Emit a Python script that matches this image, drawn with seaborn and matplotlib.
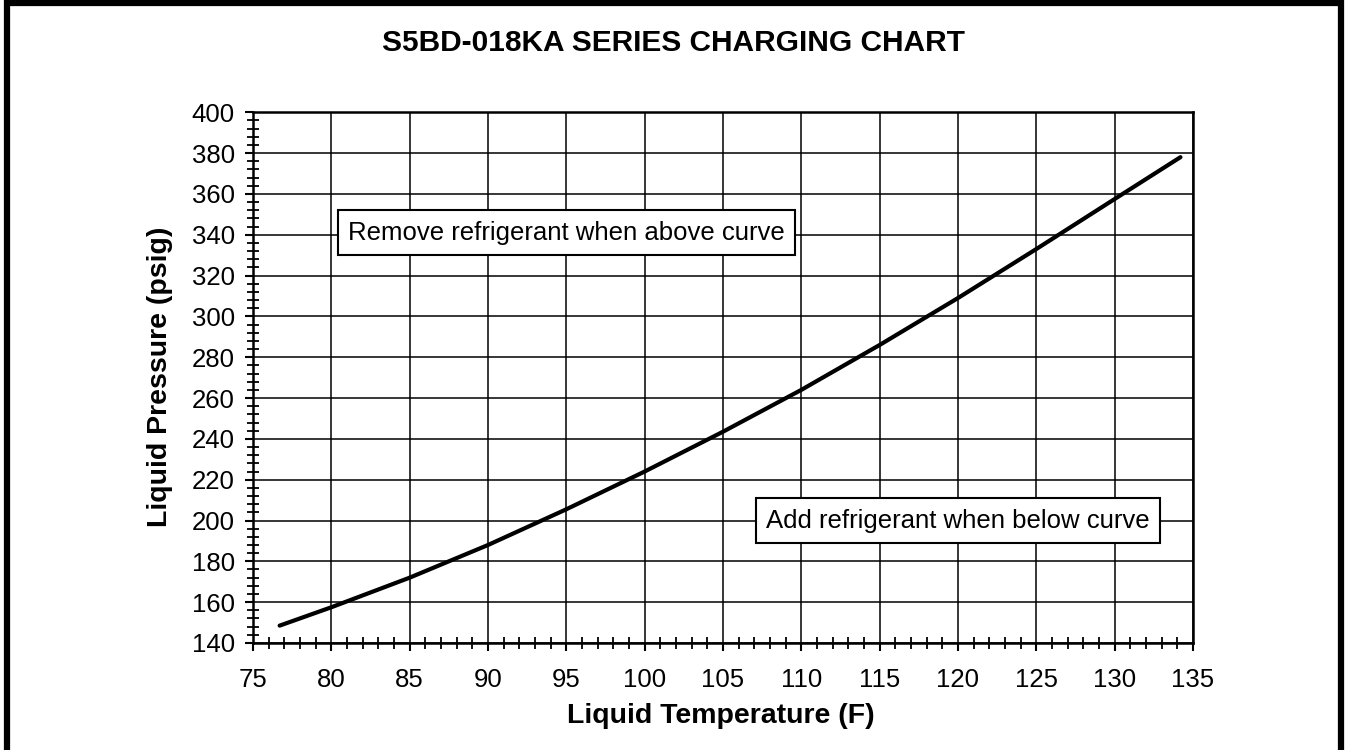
import matplotlib

matplotlib.use("Agg")
import matplotlib.pyplot as plt
import pandas as pd
import seaborn as sns
from matplotlib.patches import Rectangle
from matplotlib.ticker import MultipleLocator

# Charging curve
liquid_temp_f = [76.7, 80, 85, 90, 95, 100, 105, 110, 115, 120, 125, 130, 134.2]
liquid_pressure_psig = [148.5, 157.5, 172, 188, 205.5, 224, 243.5, 264, 286, 309, 333, 357.5, 378]

TITLE = "S5BD-018KA SERIES CHARGING CHART"
X_LABEL = "Liquid Temperature (F)"
Y_LABEL = "Liquid Pressure (psig)"
NOTE_ABOVE = "Remove refrigerant when above curve"
NOTE_BELOW = "Add refrigerant when below curve"

sns.set_theme(style="white")
plt.rcParams["font.family"] = ["Liberation Sans", "DejaVu Sans"]
plt.rcParams["text.color"] = "black"
plt.rcParams["xtick.color"] = "black"
plt.rcParams["ytick.color"] = "black"

df = pd.DataFrame({"temp": liquid_temp_f, "pressure": liquid_pressure_psig})

fig = plt.figure(figsize=(13.48, 7.5), dpi=100)
ax = fig.add_axes([0.1877, 0.1427, 0.6973, 0.7076])

sns.lineplot(data=df, x="temp", y="pressure", color="black", linewidth=3, ax=ax)

ax.set_xlim(75, 135)
ax.set_ylim(140, 400)
ax.xaxis.set_major_locator(MultipleLocator(5))
ax.xaxis.set_minor_locator(MultipleLocator(1))
ax.yaxis.set_major_locator(MultipleLocator(20))
ax.yaxis.set_minor_locator(MultipleLocator(4))
ax.grid(True, which="major", color="black", linewidth=1.1)
ax.set_axisbelow(True)

for side in ["left", "bottom", "right", "top"]:
    ax.spines[side].set_visible(True)
    ax.spines[side].set_color("black")
    ax.spines[side].set_linewidth(1.8)

ax.tick_params(which="major", direction="out", length=6, width=1.5,
               color="black", labelsize=18.5, labelcolor="black",
               left=True, bottom=True)
ax.tick_params(axis="y", which="major", pad=7)
ax.tick_params(axis="x", which="major", pad=12)
ax.tick_params(which="minor", direction="inout", length=9, width=1.3,
               color="black", left=True, bottom=True)

ax.set_xlabel("")
ax.set_ylabel("")
fig.text(0.535, 0.045, X_LABEL, ha="center", va="center",
         fontsize=20.5, fontweight="bold")
fig.text(0.119, 0.497, Y_LABEL, ha="center", va="center", rotation=90,
         fontsize=20.5, fontweight="bold")
fig.text(0.5, 0.943, TITLE, ha="center", va="center",
         fontsize=21.5, fontweight="bold")

box = dict(boxstyle="square,pad=0.4", facecolor="white", edgecolor="black", linewidth=1.5)
ax.text(95, 341, NOTE_ABOVE, ha="center", va="center", fontsize=18.5, bbox=box)
ax.text(120, 200, NOTE_BELOW, ha="center", va="center", fontsize=18.5, bbox=box)

# heavy frame around the whole picture
fig.patches.append(Rectangle((0.0055, -0.05), 0.9895, 1.0465, transform=fig.transFigure,
                             fill=False, edgecolor="black", linewidth=4.5))

fig.savefig("out.png", dpi=100)
plt.close(fig)
